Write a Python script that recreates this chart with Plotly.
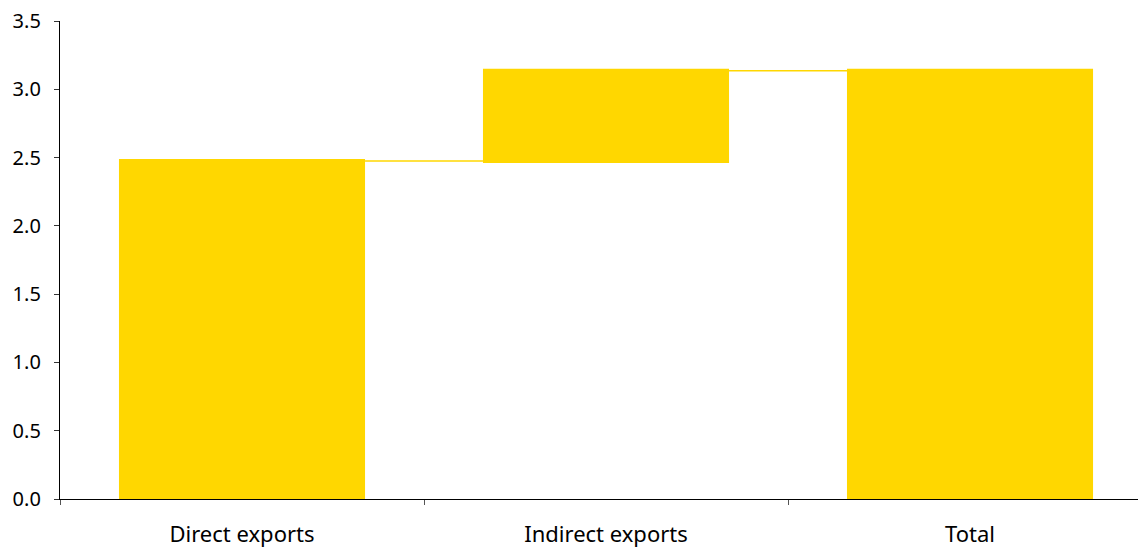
import plotly.graph_objects as go

categories = ["Direct exports", "Indirect exports", "Total"]
bar_bases = [0.0, 2.46, 0.0]
bar_heights = [2.49, 0.69, 3.15]
connector_levels = [2.475, 3.135]
y_ticks = [0.0, 0.5, 1.0, 1.5, 2.0, 2.5, 3.0, 3.5]

YELLOW = "#FFD700"
FONT = "Noto Sans"
BAR_WIDTH = 0.676

fig = go.Figure()
fig.add_trace(go.Bar(
    x=categories, y=bar_heights, base=bar_bases,
    marker=dict(color=YELLOW, line=dict(width=0)),
    width=BAR_WIDTH, hoverinfo="skip", showlegend=False,
))

for i, lvl in enumerate(connector_levels):
    fig.add_shape(type="line", xref="x", yref="y",
                  x0=i + BAR_WIDTH / 2, x1=i + 1 - BAR_WIDTH / 2, y0=lvl, y1=lvl,
                  line=dict(color=YELLOW, width=1.5), layer="below")

fig.update_layout(
    width=1138, height=547,
    margin=dict(l=60, r=0, t=21, b=48),
    plot_bgcolor="white", paper_bgcolor="white",
    font=dict(family=FONT, color="black"),
    xaxis=dict(
        type="category", range=[-0.5, 2.4615],
        showline=True, linecolor="black", linewidth=1.3,
        ticks="outside", tickson="boundaries", ticklen=5, tickcolor="#555",
        tickfont=dict(size=22, family=FONT), showgrid=False, zeroline=False,
        ticklabelstandoff=15,
    ),
    yaxis=dict(
        range=[0, 3.5], tickvals=y_ticks, tickformat=".1f",
        showline=True, linecolor="black", linewidth=1.3,
        ticks="outside", ticklen=5, tickcolor="#333",
        tickfont=dict(size=20, family=FONT), showgrid=False, zeroline=False,
        ticklabelstandoff=9,
    ),
)

fig.write_html("out.html")
